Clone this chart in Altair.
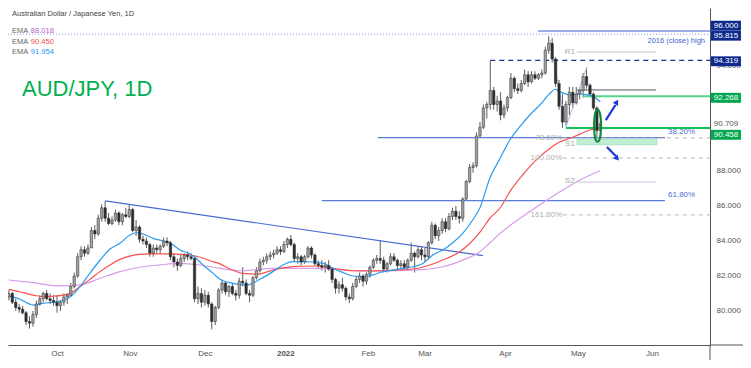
import altair as alt
import pandas as pd

# ---------------- candles (trading-day index 0 = 13 Sep 2021) ----------------
opens = [80.8, 81.0, 80.5, 80.2, 80.1, 79.9, 79.4, 79.3, 79.8, 80.4, 80.7, 81.0, 80.7, 80.6,
         80.5, 80.3, 80.5, 80.8, 80.9, 81.4, 82.0, 83.1, 83.5, 83.3, 83.6, 84.6, 84.4, 85.3,
         85.9, 85.3, 85.0, 85.2, 85.6, 85.1, 85.5, 85.4, 85.8, 84.6, 84.8, 84.1, 84.0, 83.8,
         83.3, 83.6, 83.5, 83.7, 84.0, 83.9, 83.1, 82.8, 82.6, 83.0, 83.2, 83.1, 83.0, 80.7,
         81.0, 80.5, 80.9, 80.4, 79.4, 80.2, 81.2, 81.6, 81.1, 81.4, 81.0, 80.9, 81.7, 81.6,
         81.0, 80.9, 81.9, 82.3, 82.8, 82.9, 83.1, 83.2, 83.3, 83.5, 83.4, 83.8, 84.1, 83.8,
         83.0, 83.1, 82.8, 83.1, 83.6, 83.2, 82.7, 82.6, 82.5, 82.6, 82.4, 81.8, 81.3, 81.5,
         81.3, 80.8, 80.7, 81.4, 81.8, 82.0, 81.7, 82.1, 82.5, 82.9, 83.0, 82.9, 82.4, 82.7,
         83.1, 82.9, 82.6, 82.7, 82.5, 82.9, 83.3, 83.1, 83.5, 83.2, 83.1, 83.9, 84.9, 84.3,
         84.6, 85.1, 84.7, 85.4, 85.7, 85.4, 85.3, 86.4, 87.4, 88.2, 88.3, 90.0, 90.5, 91.6,
         91.8, 92.6, 91.8, 92.0, 91.2, 91.6, 92.2, 93.3, 92.7, 92.6, 93.0, 93.5, 93.1, 93.5,
         93.3, 93.5, 93.6, 94.9, 95.3, 94.4, 93.0, 91.7, 90.8, 91.8, 92.5, 91.9, 92.4, 92.6,
         93.4, 92.9, 92.4, 91.6, 90.3]
highs = [81.2, 81.1, 80.7, 80.4, 80.3, 80.0, 79.7, 80.0, 80.6, 80.9, 81.1, 81.2, 81.0, 80.9,
         80.9, 80.6, 81.0, 81.0, 81.6, 82.2, 83.3, 83.7, 83.7, 83.8, 84.8, 84.9, 85.5, 86.1,
         86.29, 85.6, 85.4, 85.8, 85.7, 85.6, 85.9, 86.1, 85.9, 85.2, 84.9, 84.3, 84.2, 83.9,
         83.8, 83.8, 83.8, 84.2, 84.2, 84.0, 83.3, 83.0, 83.2, 83.3, 83.4, 83.3, 83.1, 81.4,
         81.3, 81.2, 81.1, 80.5, 80.3, 81.3, 81.8, 81.7, 81.5, 81.6, 81.2, 81.9, 82.5, 81.8,
         81.2, 82.0, 82.5, 83.0, 83.1, 83.3, 83.4, 83.5, 83.7, 83.7, 84.0, 84.2, 84.34, 83.9,
         83.3, 83.2, 83.2, 83.7, 83.7, 83.3, 82.9, 82.9, 82.8, 82.9, 82.5, 81.9, 81.7, 81.9,
         81.4, 81.0, 81.6, 82.0, 82.2, 82.1, 82.2, 82.6, 83.0, 83.2, 84.06, 83.1, 82.8, 83.3,
         83.3, 83.0, 82.9, 82.9, 83.0, 83.9, 83.4, 83.7, 83.7, 83.6, 84.0, 85.1, 85.0, 84.8,
         85.3, 85.3, 85.6, 85.9, 86.0, 85.7, 86.5, 87.5, 88.4, 88.5, 90.2, 90.8, 91.8, 91.95,
         94.32, 92.8, 92.3, 92.5, 91.8, 92.3, 93.6, 93.4, 93.0, 93.2, 93.8, 93.7, 93.7, 93.7,
         93.6, 93.8, 95.1, 95.7, 95.6, 94.5, 93.2, 92.4, 92.0, 92.8, 92.8, 92.8, 92.8, 93.6,
         93.94, 93.0, 92.5, 91.7, 90.9]
lows = [80.6, 80.4, 80.0, 79.9, 79.8, 79.2, 79.0, 79.1, 79.6, 80.3, 80.5, 80.6, 80.4, 80.3,
        79.9, 80.0, 80.3, 80.4, 80.8, 81.3, 81.9, 82.9, 83.1, 83.2, 83.6, 84.1, 84.3, 85.1,
        85.1, 84.9, 84.9, 85.1, 84.9, 84.9, 85.3, 85.3, 84.5, 84.3, 83.9, 83.8, 83.6, 83.1,
        83.1, 83.3, 83.3, 83.6, 83.7, 82.9, 82.5, 82.3, 82.5, 82.8, 82.9, 82.9, 80.5, 80.4,
        80.2, 80.3, 80.2, 78.95, 79.2, 80.1, 81.0, 80.9, 80.8, 80.9, 80.6, 80.7, 81.4, 80.9,
        80.5, 80.8, 81.8, 82.2, 82.6, 82.7, 82.9, 83.0, 83.2, 83.2, 83.3, 83.6, 83.7, 82.8,
        82.7, 82.6, 82.7, 83.0, 83.0, 82.6, 82.4, 82.3, 82.2, 82.3, 81.6, 81.0, 81.0, 81.1,
        80.6, 80.45, 80.6, 81.3, 81.6, 81.4, 81.5, 81.9, 82.4, 82.7, 82.7, 82.2, 82.2, 82.6,
        82.8, 82.4, 82.4, 82.3, 82.3, 82.8, 82.2, 83.0, 82.9, 82.8, 83.0, 83.8, 84.1, 84.0,
        84.4, 84.5, 84.6, 85.2, 85.2, 85.0, 85.1, 86.3, 87.3, 87.9, 88.2, 89.9, 90.4, 91.0,
        91.5, 91.5, 91.4, 90.9, 91.0, 91.4, 92.1, 92.5, 92.4, 92.5, 92.9, 92.8, 93.0, 93.2,
        93.2, 93.3, 93.5, 94.7, 94.2, 92.8, 91.5, 90.46, 90.6, 91.2, 91.6, 91.8, 92.1, 92.2,
        92.7, 92.2, 91.5, 89.8, 90.2]
closes = [81.0, 80.5, 80.2, 80.1, 79.9, 79.4, 79.3, 79.8, 80.4, 80.7, 81.0, 80.7, 80.6, 80.5,
          80.3, 80.5, 80.8, 80.9, 81.4, 82.0, 83.1, 83.5, 83.3, 83.6, 84.6, 84.4, 85.3, 85.9,
          85.3, 85.0, 85.2, 85.6, 85.1, 85.5, 85.4, 85.8, 84.6, 84.8, 84.1, 84.0, 83.8, 83.3,
          83.6, 83.5, 83.7, 84.0, 83.9, 83.1, 82.8, 82.6, 83.0, 83.2, 83.1, 83.0, 80.7, 81.0,
          80.5, 80.9, 80.4, 79.4, 80.2, 81.2, 81.6, 81.1, 81.4, 81.0, 80.9, 81.7, 81.6, 81.0,
          80.9, 81.9, 82.3, 82.8, 82.9, 83.1, 83.2, 83.3, 83.5, 83.4, 83.8, 84.1, 83.8, 83.0,
          83.1, 82.8, 83.1, 83.6, 83.2, 82.7, 82.6, 82.5, 82.6, 82.4, 81.8, 81.3, 81.5, 81.3,
          80.8, 80.7, 81.4, 81.8, 82.0, 81.7, 82.1, 82.5, 82.9, 83.0, 82.9, 82.4, 82.7, 83.1,
          82.9, 82.6, 82.7, 82.5, 82.9, 83.3, 83.1, 83.5, 83.2, 83.1, 83.9, 84.9, 84.3, 84.6,
          85.1, 84.7, 85.4, 85.7, 85.4, 85.3, 86.4, 87.4, 88.2, 88.3, 90.0, 90.5, 91.6, 91.8,
          92.6, 91.8, 92.0, 91.2, 91.6, 92.2, 93.3, 92.7, 92.6, 93.0, 93.5, 93.1, 93.5, 93.3,
          93.5, 93.6, 94.9, 95.3, 94.4, 93.0, 91.7, 90.8, 91.8, 92.5, 91.9, 92.4, 92.6, 93.4,
          92.9, 92.4, 91.6, 90.3, 90.709]

# ---------------- EMA readings (bar index, value) ----------------
ema_fast_i = [0, 3.2, 7.0, 9.9, 14.0, 17.8, 20.7, 23.6, 26.5, 29.4, 32.3, 35.2, 37.3, 39.0, 41.9,
              44.8, 46.9, 49.8, 52.7, 54.1, 56.5, 59.4, 61.4, 65.2, 69.2, 73.0, 76.8, 79.7, 82.6,
              85.5, 88.4, 91.4, 94.3, 97.2, 100.1, 103.0, 105.9, 108.8, 111.7, 114.6, 117.5,
              120.4, 123.3, 126.2, 129.1, 132.0, 134.9, 137.0, 139.9, 142.9, 145.7, 148.6,
              151.5, 154.4, 157.4, 158.8, 160.3, 163.2, 166.1, 169.0, 172.0]
ema_fast_v = [80.86, 80.67, 80.34, 80.44, 80.53, 80.80, 81.39, 82.17, 82.90, 83.54, 83.87, 84.34,
              84.47, 84.40, 84.15, 84.00, 83.87, 83.49, 83.26, 83.07, 82.63, 82.15, 81.81, 81.58,
              81.49, 81.81, 82.25, 82.63, 82.82, 82.82, 82.80, 82.72, 82.44, 82.19, 82.00, 81.96,
              82.06, 82.25, 82.34, 82.44, 82.53, 82.72, 83.20, 83.49, 83.90, 84.44, 85.20, 85.90,
              87.60, 88.74, 89.77, 90.53, 91.20, 91.77, 92.44, 92.67, 92.53, 92.34, 92.40, 92.34,
              91.954]
ema_mid_i = [0, 3.2, 7.0, 9.9, 14.0, 17.8, 20.7, 23.6, 26.5, 29.4, 32.3, 35.2, 38.1, 41.0, 46.9,
             49.8, 52.7, 55.6, 58.5, 61.4, 64.3, 68.1, 72.2, 76.8, 82.6, 88.4, 94.3, 100.1,
             105.9, 111.7, 117.5, 122.5, 127.4, 131.2, 134.1, 137.0, 139.9, 142.9, 145.7, 148.6,
             151.5, 154.4, 157.4, 160.3, 163.2, 166.1, 169.0, 172.0]
ema_mid_v = [81.24, 81.10, 80.91, 80.82, 80.86, 81.01, 81.39, 81.81, 82.25, 82.63, 82.95, 83.14,
             83.24, 83.26, 83.26, 83.24, 83.20, 83.07, 82.87, 82.69, 82.40, 82.15, 82.11, 82.34,
             82.53, 82.57, 82.44, 82.30, 82.29, 82.34, 82.40, 82.63, 83.01, 83.39, 83.87, 84.50,
             85.30, 85.90, 86.82, 87.58, 88.25, 88.82, 89.30, 89.67, 89.87, 90.11, 90.34, 90.45]
ema_slow_i = [0, 7.0, 14.9, 20.7, 26.5, 32.3, 38.1, 43.9, 49.8, 55.6, 61.4, 67.2, 76.8, 88.4,
              103.0, 117.5, 126.2, 132.0, 137.0, 139.9, 142.9, 146.6, 151.5, 156.5, 161.1,
              166.1, 172.0]
ema_slow_v = [81.77, 81.62, 81.43, 81.49, 81.87, 82.25, 82.50, 82.63, 82.72, 82.63, 82.44, 82.30,
              82.44, 82.44, 82.29, 82.34, 82.53, 82.91, 83.39, 83.90, 84.44, 85.01, 85.68, 86.34,
              86.91, 87.49, 88.018]

# ---------------- axes ----------------
month_idx = [14, 35.2, 57, 80.4, 104.4, 120.9, 144.3, 165.5, 187]
month_lbl = ["Oct", "Nov", "Dec", "2022", "Feb", "Mar", "Apr", "May", "Jun"]
price_ticks = [78, 80, 82, 84, 86, 88, 92, 94]

# ---------------- horizontal levels ----------------
lvl_price = [95.815, 96.0, 94.319, 92.268, 90.458, 89.91, 86.31, 94.8, 92.63, 87.37, 89.89, 88.74, 85.49]
lvl_start = [-0.25, 153.9, 140.0, 167.0, 162.0, 107.3, 91.0, 165.2, 165.2, 165.2, 161.1, 161.1, 161.1]
lvl_end = [204.0, 204.0, 204.0, 204.0, 204.0, 190.8, 190.8, 188.2, 188.2, 188.2, 204.0, 204.0, 204.0]
lvl_kind = ["dotted", "blue", "navy_dash", "green_light", "green", "fib_blue", "fib_blue",
            "piv_r", "piv_p", "piv_s", "fib_dash", "fib_dash", "fib_dash"]

# sloped drawings
seg_i1 = [28.0, 157.4, 162.0]
seg_p1 = [86.29, 95.49, 90.51]
seg_i2 = [137.9, 162.0, 168.1]
seg_p2 = [83.16, 90.51, 93.94]
seg_kind = ["trend", "pattern", "pattern"]

FONT = "Liberation Sans"
XS = alt.Scale(domain=[-0.25, 203.9], nice=False, zero=False, padding=0)
YS = alt.Scale(domain=[78.057, 97.314], nice=False, zero=False, padding=0)

label_expr = " : ".join(f"datum.value == {v} ? '{t}'" for v, t in zip(month_idx, month_lbl)) + " : ''"
AXX = alt.Axis(values=month_idx, labelExpr=label_expr, grid=False, ticks=False,
               domainColor="#555555", labelColor="#555555", labelFont=FONT, labelFontSize=8,
               labelPadding=4, title=None, labelFlush=False, labelOverlap=False,
               labelFontWeight={"condition": {"test": "datum.value == 80.4", "value": "bold"},
                                "value": "normal"})
AXY = alt.Axis(orient="right", values=price_ticks, format=".3f", grid=False, ticks=False,
               domainColor="#555555", labelColor="#555555", labelFont=FONT, labelFontSize=8,
               labelPadding=6, title=None, labelFlush=False, labelOverlap=False)


def X(f):
    return alt.X(f, type="quantitative", scale=XS, axis=AXX)


def Y(f):
    return alt.Y(f, type="quantitative", scale=YS, axis=AXY)


candles = pd.DataFrame({"i": list(range(len(closes))), "o": opens, "h": highs, "l": lows, "c": closes})
candles["dir"] = ["up" if c >= o else "down" for o, c in zip(opens, closes)]

wicks = alt.Chart(candles).mark_rule(color="#333333", strokeWidth=0.8).encode(
    x=X("i"), y=Y("l"), y2="h:Q")
bodies_up = alt.Chart(candles).transform_filter(alt.datum.dir == "up").mark_bar(
    size=2.4, color="#a3a3a3", stroke="#2a2a2a", strokeWidth=0.5).encode(x=X("i"), y=Y("o"), y2="c:Q")
bodies_dn = alt.Chart(candles).transform_filter(alt.datum.dir == "down").mark_bar(
    size=2.4, color="#2e2e2e", stroke="#2a2a2a", strokeWidth=0.5).encode(x=X("i"), y=Y("o"), y2="c:Q")

ema_layers = []
for ii, vv, col in [(ema_slow_i, ema_slow_v, "#d69de6"), (ema_mid_i, ema_mid_v, "#f5524f"),
                    (ema_fast_i, ema_fast_v, "#2b9bf0")]:
    d = pd.DataFrame({"i": ii, "v": vv})
    ema_layers.append(alt.Chart(d).mark_line(color=col, strokeWidth=1.2, interpolate="monotone")
                      .encode(x=X("i"), y=Y("v")))

levels = pd.DataFrame({"p": lvl_price, "i1": lvl_start, "i2": lvl_end, "k": lvl_kind})
styles = {
    "dotted": dict(color="#8d98d8", strokeWidth=1, strokeDash=[1, 2]),
    "blue": dict(color="#3d5bd0", strokeWidth=1.2),
    "navy_dash": dict(color="#1f3596", strokeWidth=1.2, strokeDash=[5, 4]),
    "green_light": dict(color="#55d48c", strokeWidth=2),
    "green": dict(color="#12c258", strokeWidth=2),
    "fib_blue": dict(color="#5a7ddb", strokeWidth=1.2),
    "piv_r": dict(color="#c4c4c4", strokeWidth=1),
    "piv_p": dict(color="#555555", strokeWidth=1),
    "piv_s": dict(color="#cfc3dc", strokeWidth=1),
    "fib_dash": dict(color="#b5b5b5", strokeWidth=1, strokeDash=[4, 4]),
}
level_layers = []
for k, st in styles.items():
    level_layers.append(alt.Chart(levels).transform_filter(alt.datum.k == k).mark_rule(**st)
                        .encode(x=X("i1"), x2="i2:Q", y=Y("p")))

# frame extensions into the price gutter (as in the reference)
frame = pd.DataFrame({"i1": [203.9, 203.9], "i2": [214.0, 203.9], "p1": [78.057, 78.057],
                      "p2": [78.057, 76.6]})
frame_layer = alt.Chart(frame).mark_rule(color="#555555", strokeWidth=1).encode(
    x=X("i1"), x2="i2:Q", y=Y("p1"), y2="p2:Q")

s1_band = pd.DataFrame({"i1": [165.2], "i2": [188.5], "p1": [89.83], "p2": [89.49]})
band = alt.Chart(s1_band).mark_rect(color="#bfeed3", stroke="#9fdcb8", strokeWidth=0.6).encode(
    x=X("i1"), x2="i2:Q", y=Y("p1"), y2="p2:Q")

segs = pd.DataFrame({"i1": seg_i1, "p1": seg_p1, "i2": seg_i2, "p2": seg_p2, "k": seg_kind})
trend = alt.Chart(segs).transform_filter(alt.datum.k == "trend").mark_rule(
    color="#4a6bd1", strokeWidth=1.2).encode(x=X("i1"), y=Y("p1"), x2="i2:Q", y2="p2:Q")
pattern = alt.Chart(segs).transform_filter(alt.datum.k == "pattern").mark_rule(
    color="#a9bde8", strokeWidth=1).encode(x=X("i1"), y=Y("p1"), x2="i2:Q", y2="p2:Q")

# ellipse around the last big candle
ell = pd.DataFrame({"i": [171.2], "p": [90.58]})
ellipse = alt.Chart(ell).mark_point(
    shape="M0,-1 A0.22,1 0 1,1 0,1 A0.22,1 0 1,1 0,-1 Z", size=1024, filled=False,
    stroke="#0e8a3c", strokeWidth=2, opacity=1).encode(x=X("i"), y=Y("p"))

# arrows
arr = pd.DataFrame({"i1": [173.6, 173.9], "p1": [90.91, 89.37], "i2": [176.4, 176.5],
                    "p2": [91.77, 88.86], "hi": [176.8, 176.9], "hp": [91.94, 88.72], "a": [31, 138]})
ARROW = "#1a35d8"
shafts = alt.Chart(arr).mark_rule(color=ARROW, strokeWidth=2.2).encode(
    x=X("i1"), y=Y("p1"), x2="i2:Q", y2="p2:Q")
heads = alt.Chart(arr).mark_point(shape="triangle-up", filled=True, size=38, color=ARROW,
                                  opacity=1).encode(x=X("hi"), y=Y("hp"),
                                                    angle=alt.Angle("a:Q", scale=None))


def txt(rows, **kw):
    d = pd.DataFrame(rows, columns=["i", "p", "t"])
    base = dict(font=FONT, fontSize=8, baseline="middle", align="left")
    base.update(kw)
    return alt.Chart(d).mark_text(**base).encode(x=X("i"), y=Y("p"), text="t:N")


texts = [
    txt([(0.91, 96.98, "Australian Dollar / Japanese Yen, 1D")], color="#444444", fontSize=7.5),
    txt([(0.91, 96.0, "EMA"), (0.91, 95.37, "EMA"), (0.91, 94.8, "EMA")], color="#666666",
        fontSize=7.5),
    txt([(6.4, 96.0, "88.018")], color="#b65ad0", fontSize=7.5),
    txt([(6.4, 95.37, "90.450")], color="#f24b4b", fontSize=7.5),
    txt([(6.4, 94.8, "91.954")], color="#2196f3", fontSize=7.5),
    txt([(3.82, 92.71, "AUD/JPY, 1D")], color="#00b050", fontSize=22),
    txt([(202.45, 95.43, "2016 (close) high")], color="#3f5fcf", align="right", fontSize=7.5),
    txt([(191.7, 90.0, "38.20%"), (191.7, 86.42, "61.80%")], color="#4a6fd0", baseline="bottom"),
    txt([(160.9, 89.89, "78.60%"), (160.9, 88.74, "100.00%"), (160.9, 85.49, "161.80%")],
        color="#b0b0b0", align="right"),
    txt([(164.6, 94.8, "R1"), (164.6, 89.54, "S1"), (164.6, 87.4, "S2")], color="#a8a8a8",
        align="right"),
    txt([(208.55, 90.669, "90.709")], color="#555555", align="center"),
]

# price boxes in the right gutter
box_txt = ["96.000", "95.815", "94.319", "92.268", "90.458"]
box_pos = [96.303, 95.731, 94.269, 92.183, 90.069]
box_col = ["navy", "navy", "navy", "green", "green"]
boxes = pd.DataFrame({"t": box_txt, "p": box_pos, "k": box_col})
boxes["top"] = boxes["p"] + 0.283
boxes["bot"] = boxes["p"] - 0.283
boxes["i1"] = 204.19
boxes["i2"] = 212.9
boxes["ic"] = 208.55
box_layers = []
for k, col in [("navy", "#0f2a8e"), ("green", "#00a84f")]:
    b = alt.Chart(boxes).transform_filter(alt.datum.k == k)
    box_layers.append(b.mark_rect(color=col).encode(x=X("i1"), x2="i2:Q", y=Y("top"), y2="bot:Q"))
box_text = alt.Chart(boxes).mark_text(font=FONT, fontSize=8, color="white", align="center",
                                      baseline="middle").encode(x=X("ic"), y=Y("p"), text="t:N")

chart = alt.layer(
    wicks, band, *level_layers, frame_layer, trend, pattern, *ema_layers, bodies_up, bodies_dn,
    ellipse, shafts, heads, *texts, *box_layers, box_text
).properties(
    width=702, height=337, autosize="none",
    padding={"left": 0, "top": 0, "right": 33, "bottom": 15},
    background="white",
).configure_view(stroke=None)

chart.save("out.html", embed_options={"renderer": "svg", "actions": False})
